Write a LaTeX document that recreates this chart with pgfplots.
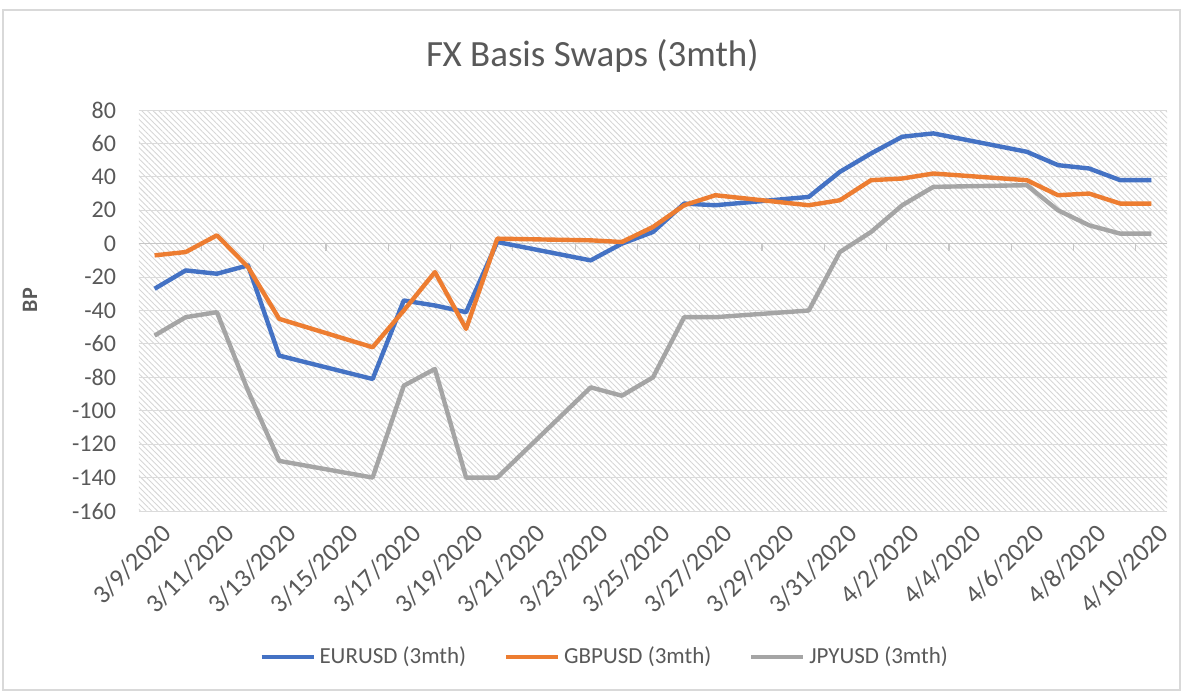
\documentclass[border=0pt]{standalone}
\usepackage{fontspec}
\setmainfont{Carlito}
\usepackage{pgfplots}
\pgfplotsset{compat=1.18}
\usetikzlibrary{patterns.meta}

\definecolor{eurblue}{HTML}{4472C4}
\definecolor{gbporange}{HTML}{ED7D31}
\definecolor{jpygray}{HTML}{A5A5A5}
\definecolor{txtgray}{HTML}{595959}

\begin{document}
\begin{tikzpicture}
\useasboundingbox (0,0) rectangle (595pt,346.5pt);
\draw[gray!30, line width=0.6pt] (1.5pt,1.5pt) rectangle (590pt,341.5pt);
\begin{axis}[
    at={(69.5pt,91pt)}, anchor=south west,
    width=514pt, height=200.5pt, scale only axis,
    xmin=-0.5, xmax=32.5, ymin=-160, ymax=80,
    axis line style={draw=none},
    axis background/.style={pattern={Lines[angle=-45,distance=2pt,line width=0.45pt]}, pattern color=gray!32},
    ytick={-160,-140,...,80},
    yticklabels={-160,-140,-120,-100,-80,-60,-40,-20,0,20,40,60,80},
    xtick={0,2,...,32},
    xticklabels={3/9/2020,3/11/2020,3/13/2020,3/15/2020,3/17/2020,3/19/2020,3/21/2020,3/23/2020,3/25/2020,3/27/2020,3/29/2020,3/31/2020,4/2/2020,4/4/2020,4/6/2020,4/8/2020,4/10/2020},
    major tick length=0pt,
    ymajorgrids, grid style={gray!28, line width=0.5pt},
    tick label style={text=txtgray},
    yticklabel style={font=\fontsize{12}{14}\selectfont, xshift=-8pt},
    xticklabel style={font=\fontsize{13}{15}\selectfont, rotate=45, anchor=east, xshift=1.5pt, yshift=-11pt},
    ylabel={\textbf{BP}},
    ylabel style={at={(axis description cs:-0.106,0.526)}, anchor=center, font=\fontsize{11}{13}\selectfont, text=txtgray},
    title={FX Basis Swaps (3mth)},
    title style={at={(axis description cs:0.441,1.105)}, anchor=center, font=\fontsize{18.5}{22}\selectfont, text=txtgray},
    legend style={at={(axis description cs:0.454,-0.364)}, anchor=center, draw=none, fill=none,
        legend columns=3, font=\fontsize{11.5}{14}\selectfont, text=txtgray,
        /tikz/every even column/.append style={column sep=17pt}},
    legend image code/.code={\draw[#1, line width=2pt] (0pt,0pt) -- (26pt,0pt);},
    every axis plot/.append style={line width=2.2pt, line join=round, mark=none},
    clip=false,
]
\draw[gray!45, line width=0.6pt] (axis cs:-0.5,0) -- (axis cs:32.5,0);
\pgfplotsinvokeforeach{1.5,3.5,5.5,7.5,9.5,11.5,13.5,15.5,17.5,19.5,21.5,23.5,25.5,27.5,29.5,31.5}{
  \draw[gray!45, line width=0.6pt] (axis cs:#1,0) -- ++(0pt,-3.5pt);
}

\addplot[eurblue] coordinates {
(0,-27) (1,-16) (2,-18) (3,-13) (4,-67) (7,-81) (8,-34) (9,-37) (10,-41) (11,1)
(14,-10) (15,0) (16,7) (17,24) (18,23) (21,28) (22,43) (23,54) (24,64) (25,66)
(28,55) (29,47) (30,45) (31,38) (32,38)};
\addlegendentry{EURUSD (3mth)}

\addplot[gbporange] coordinates {
(0,-7) (1,-5) (2,5) (3,-14) (4,-45) (7,-62) (8,-40) (9,-17) (10,-51) (11,3)
(14,2) (15,1) (16,10) (17,23) (18,29) (21,23) (22,26) (23,38) (24,39) (25,42)
(28,38) (29,29) (30,30) (31,24) (32,24)};
\addlegendentry{GBPUSD (3mth)}

\addplot[jpygray] coordinates {
(0,-55) (1,-44) (2,-41) (3,-88) (4,-130) (7,-140) (8,-85) (9,-75) (10,-140) (11,-140)
(14,-86) (15,-91) (16,-80) (17,-44) (18,-44) (21,-40) (22,-5) (23,7) (24,23) (25,34)
(28,35) (29,20) (30,11) (31,6) (32,6)};
\addlegendentry{JPYUSD (3mth)}
\end{axis}
\end{tikzpicture}
\end{document}
